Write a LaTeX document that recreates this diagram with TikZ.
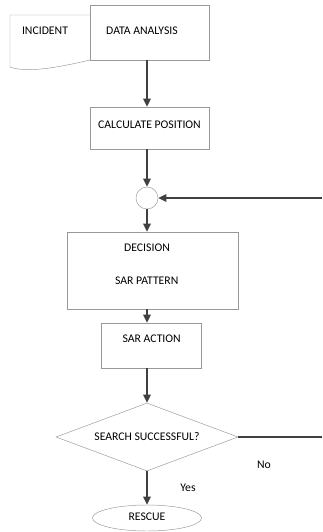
\documentclass[tikz,border=0pt]{standalone}
\usepackage{fontspec}
\setmainfont{Carlito}
\usetikzlibrary{
  arrows.meta,
  shapes.geometric,
  positioning
}
\tikzset{
  stepbox/.style={
    draw=black!40, fill=white, rectangle, inner sep=0pt
  },
  joinpoint/.style={
    draw=black!40, fill=white, circle, inner sep=0pt, minimum size=0.66cm
  },
  testbox/.style={
    draw=black!40, fill=white, diamond, inner sep=0pt, aspect=2.68,
    minimum width=5.46cm, minimum height=2.04cm
  },
  endbox/.style={
    draw=black!40, fill=white, ellipse, inner sep=0pt,
    minimum width=3.27cm, minimum height=0.78cm
  },
  flow arrow/.style={
    -{Triangle[length=7pt,width=6.5pt]}, line width=1.2pt, draw=black!75
  },
  flow line/.style={
    line width=1.2pt, draw=black!75
  },
  boxtext/.style={inner sep=0pt},
}

\begin{document}
\begin{tikzpicture}[x=0.03cm, y=-0.03cm, font=\fontsize{10}{12}\selectfont]

  \useasboundingbox (0,0) rectangle (322,532);

  % Incident (document shape)
  \draw[draw=black!40] (90,15) -- (10,15) -- (10,67)
    .. controls (24,72) and (48,70) .. (90,60);
  \node[boxtext] (incident) at (45,31) {INCIDENT};

  % Data analysis
  \node[stepbox, minimum width=3.57cm, minimum height=1.65cm] (data) at (149.5,32.5) {};
  \node[boxtext] (datatxt) at (142,31) {DATA ANALYSIS};

  % Calculate position
  \node[stepbox, minimum width=3.57cm, minimum height=1.26cm] (calc) at (149.5,128) {};
  \node[boxtext] (calctxt) at (149.5,125) {CALCULATE POSITION};

  % Junction
  \node[joinpoint] (join) at (147,198) {};
  \coordinate (loopin) at (322,198);

  % Decision
  \node[stepbox, minimum width=5.13cm, minimum height=2.31cm] (decision) at (152.5,270.5) {};
  \node[boxtext] (decisiontxt) at (147,248) {DECISION};
  \node[boxtext] (patterntxt) at (146.7,281) {SAR PATTERN};

  % SAR action
  \node[stepbox, minimum width=3.0cm, minimum height=1.35cm] (action) at (151,345.5) {};
  \node[boxtext] (actiontxt) at (151.7,339) {SAR ACTION};

  % Test and end
  \node[testbox] (search) at (147,437) {SEARCH SUCCESSFUL?};
  \coordinate (loopout) at (322,437);
  \node[endbox] (rescue) at (147,518) {\raisebox{2pt}{RESCUE}};
  \node[boxtext] (yes) at (188,488) {Yes};
  \node[boxtext] (no) at (264,465) {No};

  % Connectors
  \draw[flow arrow] (data.south -| join) -- (calc.north -| join);
  \draw[flow arrow] (calc.south -| join) -- (join.north);
  \draw[flow arrow] (join.south) -- (decision.north -| join);
  \draw[flow arrow] (decision.south -| join) -- (action.north -| join);
  \draw[flow arrow] (action.south -| join) -- (search.north);
  \draw[flow arrow] (search.south) -- (rescue.north);
  \draw[flow line] (search.east) -- (loopout);
  \draw[flow arrow] (loopin) -- (join.east);

\end{tikzpicture}
\end{document}
